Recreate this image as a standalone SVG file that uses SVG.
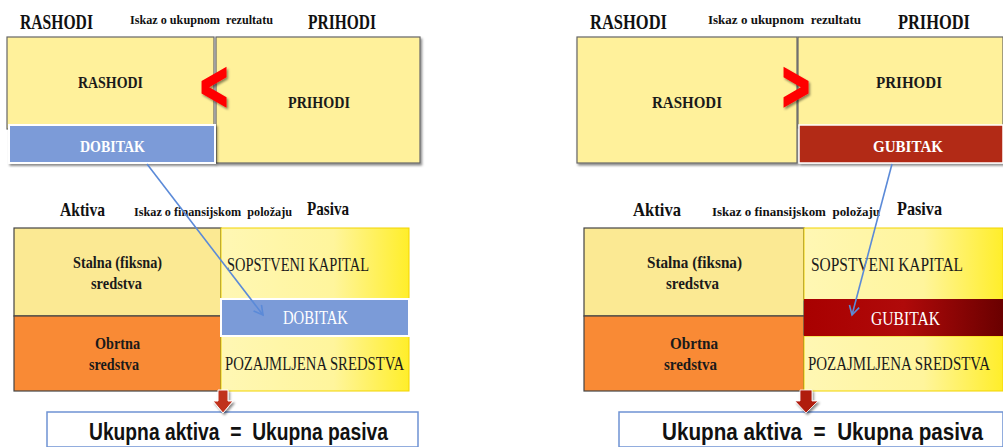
<svg xmlns="http://www.w3.org/2000/svg" width="1003" height="447" viewBox="0 0 1003 447">
<defs>
<style>
text{white-space:pre;}
.hdr{font-family:"Liberation Serif","Times New Roman",serif;font-weight:bold;fill:#111;}
.lbl{font-family:"Liberation Serif","Times New Roman",serif;font-weight:bold;fill:#1a1a1a;font-size:17px;}
.reg{font-family:"Liberation Serif","Times New Roman",serif;fill:#1a1a1a;font-size:18px;}
.wht{fill:#fff;}
.sum{font-family:"Liberation Sans",Arial,sans-serif;font-weight:bold;fill:#111;}
.ybox{fill:#fff19b;stroke:#666;stroke-width:1.2;}
.sbox{fill:#fff;stroke:#6f93d4;stroke-width:1.5;}
.conn{stroke:#5b8ad8;stroke-width:1.6;fill:none;}
.sym{font-family:"Liberation Sans",Arial,sans-serif;font-weight:bold;font-size:68px;fill:#f00;stroke:#f00;stroke-width:2.6;stroke-linejoin:miter;}
</style>
<linearGradient id="ygrad" x1="0" y1="0" x2="1" y2="0">
<stop offset="0" stop-color="#fff7b4"/>
<stop offset="0.6" stop-color="#fff59c"/>
<stop offset="1" stop-color="#ffee2a"/>
</linearGradient>
<linearGradient id="rgrad" x1="0" y1="0" x2="1" y2="0">
<stop offset="0" stop-color="#a80000"/>
<stop offset="0.5" stop-color="#b00a0a"/>
<stop offset="1" stop-color="#6a0000"/>
</linearGradient>
<filter id="sh" x="-20%" y="-20%" width="140%" height="140%">
<feDropShadow dx="1.5" dy="2" stdDeviation="1.2" flood-color="#000" flood-opacity="0.45"/>
</filter>
<marker id="ah" markerWidth="12" markerHeight="12" refX="10" refY="6" orient="auto" markerUnits="userSpaceOnUse">
<polyline points="1,1 10,6 1,11" fill="none" stroke="#5b8ad8" stroke-width="1.6"/>
</marker>
</defs>

<!-- LEFT PANEL -->
<g id="left-headers">
<text class="hdr" x="20" y="29" font-size="21" textLength="73" lengthAdjust="spacingAndGlyphs">RASHODI</text>
<text class="hdr" x="130" y="24" font-size="13" textLength="143" lengthAdjust="spacingAndGlyphs">Iskaz o ukupnom  rezultatu</text>
<text class="hdr" x="308" y="29" font-size="21" textLength="68" lengthAdjust="spacingAndGlyphs">PRIHODI</text>
</g>
<g id="L-prihodi">
<rect class="ybox" x="216" y="37" width="204" height="126" filter="url(#sh)"/>
<text class="lbl" x="288" y="108" textLength="62" lengthAdjust="spacingAndGlyphs">PRIHODI</text>
</g>
<g id="L-rashodi">
<rect class="ybox" x="7" y="37" width="207" height="92"/>
<text class="lbl" x="78" y="88" textLength="65" lengthAdjust="spacingAndGlyphs">RASHODI</text>
</g>
<g id="L-dobitak">
<rect x="9" y="125" width="206" height="38" fill="#7b9bd8" stroke="#fff" stroke-width="2" filter="url(#sh)"/>
<text class="lbl wht" x="80" y="152" textLength="65" lengthAdjust="spacingAndGlyphs">DOBITAK</text>
</g>
<g id="L-lt" filter="url(#sh)">
<text class="sym" transform="translate(214,110) scale(0.68,1)" text-anchor="middle">&lt;</text>
</g>

<g id="left-headers-2">
<text class="hdr" x="60" y="216" font-size="19" textLength="45" lengthAdjust="spacingAndGlyphs">Aktiva</text>
<text class="hdr" x="134" y="216" font-size="13" textLength="158" lengthAdjust="spacingAndGlyphs">Iskaz o finansijskom  položaju</text>
<text class="hdr" x="307" y="215" font-size="19" textLength="42" lengthAdjust="spacingAndGlyphs">Pasiva</text>
</g>
<g id="L-stalna">
<rect x="14" y="228" width="207" height="88" fill="#fbe993" stroke="#444" stroke-width="1.2"/>
<text class="lbl" x="73" y="268" textLength="89" lengthAdjust="spacingAndGlyphs">Stalna (fiksna)</text>
<text class="lbl" x="91" y="289" textLength="51" lengthAdjust="spacingAndGlyphs">sredstva</text>
</g>
<g id="L-obrtna">
<rect x="14" y="316" width="207" height="75" fill="#f98a35" stroke="#444" stroke-width="1.2"/>
<text class="lbl" x="95" y="349" textLength="45" lengthAdjust="spacingAndGlyphs">Obrtna</text>
<text class="lbl" x="89" y="370" textLength="50" lengthAdjust="spacingAndGlyphs">sredstva</text>
</g>
<g id="L-kapital">
<rect x="221" y="228" width="188" height="72" fill="url(#ygrad)" stroke="#f2d400" stroke-width="1"/>
<text class="reg" x="227" y="271" textLength="142" lengthAdjust="spacingAndGlyphs">SOPSTVENI KAPITAL</text>
</g>
<g id="L-pozajmljena">
<rect x="221" y="336" width="188" height="55" fill="url(#ygrad)" stroke="#f2d400" stroke-width="1"/>
<text class="reg" x="225" y="370" textLength="179" lengthAdjust="spacingAndGlyphs">POZAJMLJENA SREDSTVA</text>
</g>
<g id="L-dobitak2">
<rect x="221" y="299" width="188" height="37" fill="#7b9bd8" stroke="#fff" stroke-width="2"/>
<text class="reg wht" x="283" y="324" textLength="65" lengthAdjust="spacingAndGlyphs">DOBITAK</text>
</g>
<g id="L-sum">
<path class="sbox" d="M47,447 V412 H418 V447 Z"/>
<text class="sum" transform="translate(89,440) scale(1,1.22)" font-size="19.2" textLength="299" lengthAdjust="spacingAndGlyphs">Ukupna aktiva  =  Ukupna pasiva</text>
</g>
<g id="L-down" filter="url(#sh)">
<polygon points="218,390 228,390 228,401 233,401 223,413 213,401 218,401" fill="#c0301c" stroke="#fff" stroke-width="1"/>
</g>

<!-- RIGHT PANEL -->
<g id="right-headers">
<text class="hdr" x="590" y="29" font-size="21" textLength="77" lengthAdjust="spacingAndGlyphs">RASHODI</text>
<text class="hdr" x="708" y="24" font-size="13" textLength="153" lengthAdjust="spacingAndGlyphs">Iskaz o ukupnom  rezultatu</text>
<text class="hdr" x="898" y="29" font-size="21" textLength="72" lengthAdjust="spacingAndGlyphs">PRIHODI</text>
</g>
<g id="R-rashodi">
<rect class="ybox" x="577" y="37" width="220" height="126" filter="url(#sh)"/>
<text class="lbl" x="652" y="108" textLength="70" lengthAdjust="spacingAndGlyphs">RASHODI</text>
</g>
<g id="R-prihodi">
<rect class="ybox" x="798" y="37" width="205" height="91"/>
<text class="lbl" x="876" y="88" textLength="66" lengthAdjust="spacingAndGlyphs">PRIHODI</text>
</g>
<g id="R-gubitak">
<rect x="799" y="125" width="204" height="38" fill="#b22a16" stroke="#fff" stroke-width="1.5" filter="url(#sh)"/>
<text class="lbl wht" x="873" y="152" textLength="70" lengthAdjust="spacingAndGlyphs">GUBITAK</text>
</g>
<g id="R-gt" filter="url(#sh)">
<text class="sym" transform="translate(796,110) scale(0.68,1)" text-anchor="middle">&gt;</text>
</g>

<g id="right-headers-2">
<text class="hdr" x="633" y="216" font-size="19" textLength="48" lengthAdjust="spacingAndGlyphs">Aktiva</text>
<text class="hdr" x="712" y="216" font-size="13" textLength="168" lengthAdjust="spacingAndGlyphs">Iskaz o finansijskom  položaju</text>
<text class="hdr" x="897" y="215" font-size="19" textLength="45" lengthAdjust="spacingAndGlyphs">Pasiva</text>
</g>
<g id="R-stalna">
<rect x="584" y="228" width="220" height="88" fill="#fbe993" stroke="#444" stroke-width="1.2"/>
<text class="lbl" x="647" y="268" textLength="95" lengthAdjust="spacingAndGlyphs">Stalna (fiksna)</text>
<text class="lbl" x="666" y="289" textLength="53" lengthAdjust="spacingAndGlyphs">sredstva</text>
</g>
<g id="R-obrtna">
<rect x="584" y="316" width="220" height="75" fill="#f98a35" stroke="#444" stroke-width="1.2"/>
<text class="lbl" x="670" y="349" textLength="48" lengthAdjust="spacingAndGlyphs">Obrtna</text>
<text class="lbl" x="664" y="370" textLength="53" lengthAdjust="spacingAndGlyphs">sredstva</text>
</g>
<g id="R-kapital">
<rect x="804" y="228" width="199" height="72" fill="url(#ygrad)" stroke="#f2d400" stroke-width="1"/>
<text class="reg" x="811" y="271" textLength="152" lengthAdjust="spacingAndGlyphs">SOPSTVENI KAPITAL</text>
</g>
<g id="R-pozajmljena">
<rect x="804" y="336" width="199" height="55" fill="url(#ygrad)" stroke="#f2d400" stroke-width="1"/>
<text class="reg" x="808" y="370" font-size="17" textLength="182" lengthAdjust="spacingAndGlyphs">POZAJMLJENA SREDSTVA</text>
</g>
<g id="R-gubitak2">
<rect x="804" y="299" width="199" height="37" fill="url(#rgrad)"/>
<text class="reg wht" x="871" y="325" textLength="69" lengthAdjust="spacingAndGlyphs">GUBITAK</text>
</g>
<g id="R-sum">
<path class="sbox" d="M619,447 V412 H1003 V447 Z"/>
<text class="sum" transform="translate(662,440) scale(1,1.15)" font-size="20.6" textLength="321" lengthAdjust="spacingAndGlyphs">Ukupna aktiva  =  Ukupna pasiva</text>
</g>
<g id="R-down" filter="url(#sh)">
<polygon points="800,390 812,390 812,401 818,401 806,413 795,401 800,401" fill="#b01a10" stroke="#fff" stroke-width="0.8"/>
</g>

<!-- CONNECTORS -->
<g id="connectors">
<line class="conn" x1="147" y1="164" x2="263" y2="315" marker-end="url(#ah)"/>
<line class="conn" x1="892" y1="164" x2="852" y2="315" marker-end="url(#ah)"/>
</g>
</svg>
